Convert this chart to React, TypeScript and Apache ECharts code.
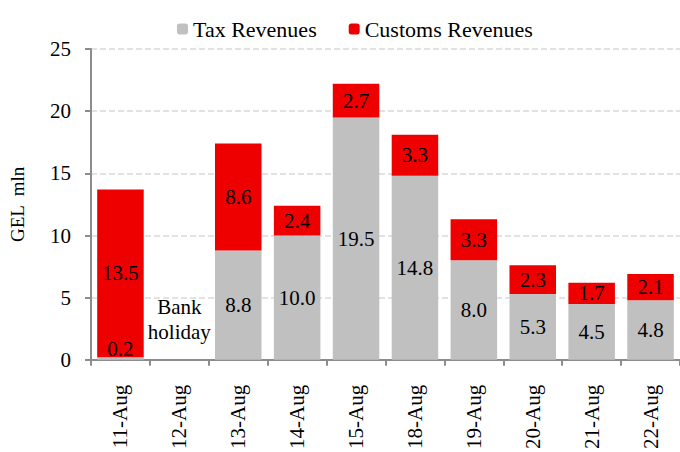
import React, { useEffect, useRef } from "react";
import * as echarts from "echarts";

const categories = ["11-Aug", "12-Aug", "13-Aug", "14-Aug", "15-Aug", "18-Aug", "19-Aug", "20-Aug", "21-Aug", "22-Aug"];
const taxRevenues = [0.2, null, 8.8, 10.0, 19.5, 14.8, 8.0, 5.3, 4.5, 4.8];
const customsRevenues = [13.5, null, 8.6, 2.4, 2.7, 3.3, 3.3, 2.3, 1.7, 2.1];
const yTicks = { min: 0, max: 25, interval: 5 };
const note = { category: "12-Aug", value: 3.25, text: "Bank\nholiday" };

const FONT = "'Liberation Serif', 'Times New Roman', serif";

export default function App() {
  const ref = useRef<HTMLDivElement>(null);
  useEffect(() => {
    if (!ref.current) return;
    const chart = echarts.init(ref.current, undefined, { renderer: "svg" });
    const labelStyle = { fontFamily: FONT, fontSize: 21, color: "#000" };
    chart.setOption({
      animation: false,
      textStyle: { fontFamily: FONT },
      legend: {
        top: 13,
        left: 172,
        itemWidth: 11,
        itemHeight: 11,
        itemGap: 32,
        textStyle: { fontFamily: FONT, fontSize: 22, color: "#000" },
        data: ["Tax Revenues", "Customs Revenues"],
      },
      grid: { left: 85, right: -2, top: 49, bottom: 91, containLabel: false },
      xAxis: {
        type: "category",
        data: categories,
        axisLine: { lineStyle: { color: "#8c8c8c", width: 2 } },
        axisTick: { show: true, length: 6, lineStyle: { color: "#8c8c8c", width: 2 } },
        axisLabel: { rotate: 90, margin: 25, fontFamily: FONT, fontSize: 21, color: "#000" },
      },
      yAxis: {
        type: "value",
        min: yTicks.min,
        max: yTicks.max,
        interval: yTicks.interval,
        name: "GEL  mln",
        nameLocation: "middle",
        nameGap: 64,
        nameTextStyle: { fontFamily: FONT, fontSize: 19, color: "#000" },
        axisLine: { show: true, lineStyle: { color: "#8c8c8c", width: 2 } },
        axisTick: { show: true, length: 6, lineStyle: { color: "#8c8c8c", width: 2 } },
        axisLabel: { margin: 20, fontFamily: FONT, fontSize: 21, color: "#000" },
        splitLine: { show: true, lineStyle: { color: "#d9d9d9", type: [6, 3], width: 1.5 } },
      },
      series: [
        {
          name: "Tax Revenues",
          type: "bar",
          stack: "total",
          barCategoryGap: "21%",
          itemStyle: { color: "#c0c0c0" },
          data: taxRevenues.map((v, i) =>
            i === 0
              ? { value: v, label: { position: "insideBottom", distance: 0 } }
              : v
          ),
          label: {
            show: true,
            position: "inside",
            formatter: (p: any) => (p.value == null ? "" : Number(p.value).toFixed(1)),
            ...labelStyle,
          },
          markPoint: {
            symbol: "circle",
            symbolSize: 0,
            data: [{ coord: [note.category, note.value], value: note.text }],
            label: {
              show: true,
              position: "inside",
              formatter: note.text,
              lineHeight: 25,
              ...labelStyle,
            },
          },
        },
        {
          name: "Customs Revenues",
          type: "bar",
          stack: "total",
          barCategoryGap: "21%",
          itemStyle: { color: "#ee0000" },
          data: customsRevenues,
          label: {
            show: true,
            position: "inside",
            formatter: (p: any) => (p.value == null ? "" : Number(p.value).toFixed(1)),
            ...labelStyle,
          },
        },
      ],
    });
    return () => chart.dispose();
  }, []);
  return (
    <div
      ref={ref}
      style={{ position: "absolute", left: 0, top: 0, width: 680, height: 452 }}
    />
  );
}
